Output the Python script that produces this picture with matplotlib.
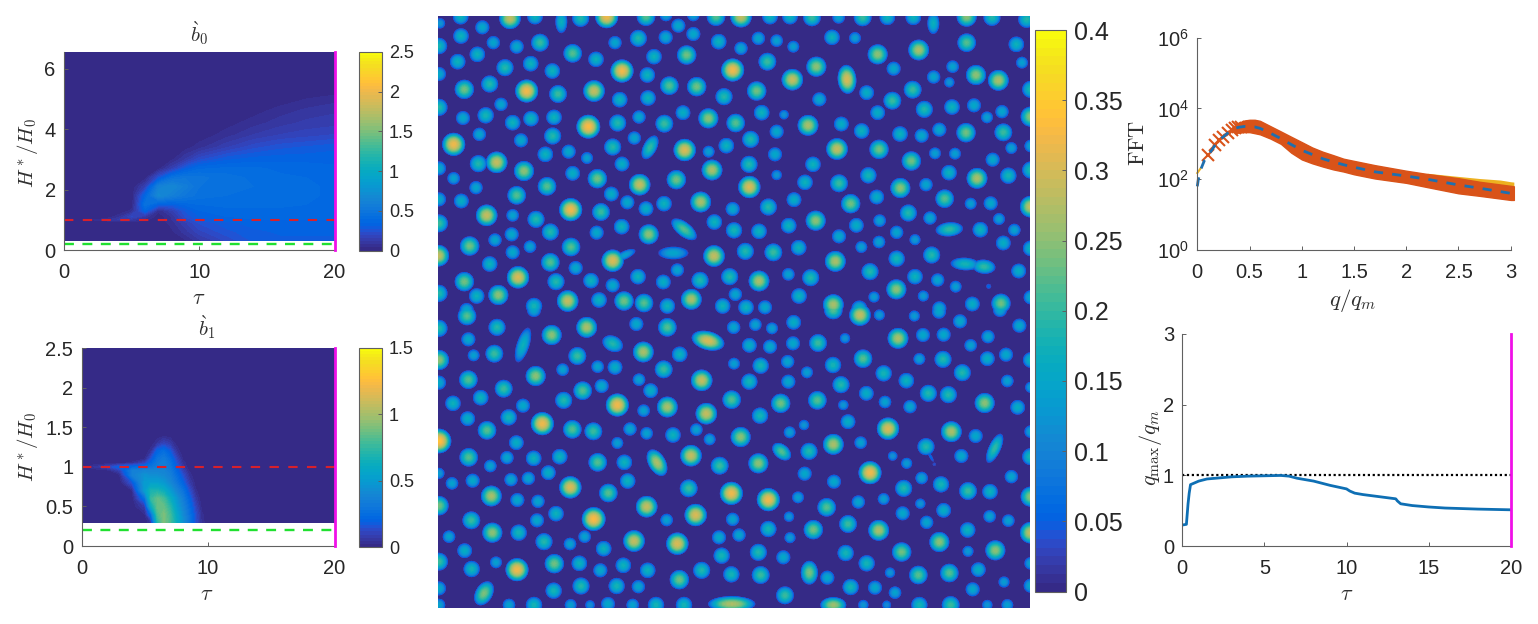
import numpy as np
import matplotlib
matplotlib.use('Agg')
import matplotlib.pyplot as plt
from matplotlib.colors import ListedColormap

plt.rcParams['font.family'] = ['Liberation Sans', 'DejaVu Sans']
plt.rcParams['mathtext.fontset'] = 'cm'

W, H = 1538, 624

parula_rows = [
 (0.2081,0.1663,0.5292),(0.2116,0.1898,0.5777),(0.2123,0.2138,0.6270),(0.2081,0.2386,0.6771),
 (0.1959,0.2645,0.7279),(0.1707,0.2919,0.7792),(0.1253,0.3242,0.8303),(0.0591,0.3598,0.8683),
 (0.0117,0.3875,0.8820),(0.0060,0.4086,0.8828),(0.0165,0.4266,0.8786),(0.0329,0.4430,0.8720),
 (0.0498,0.4586,0.8641),(0.0629,0.4737,0.8554),(0.0723,0.4887,0.8467),(0.0779,0.5040,0.8384),
 (0.0793,0.5200,0.8312),(0.0749,0.5375,0.8263),(0.0641,0.5570,0.8240),(0.0488,0.5772,0.8228),
 (0.0343,0.5966,0.8199),(0.0265,0.6137,0.8135),(0.0239,0.6287,0.8038),(0.0231,0.6418,0.7913),
 (0.0228,0.6535,0.7768),(0.0267,0.6642,0.7607),(0.0384,0.6743,0.7436),(0.0590,0.6838,0.7254),
 (0.0843,0.6928,0.7062),(0.1133,0.7015,0.6859),(0.1453,0.7098,0.6646),(0.1801,0.7177,0.6424),
 (0.2178,0.7250,0.6193),(0.2586,0.7317,0.5954),(0.3022,0.7376,0.5712),(0.3482,0.7424,0.5473),
 (0.3953,0.7459,0.5244),(0.4420,0.7481,0.5033),(0.4871,0.7491,0.4840),(0.5300,0.7491,0.4661),
 (0.5709,0.7485,0.4494),(0.6099,0.7473,0.4337),(0.6473,0.7456,0.4188),(0.6834,0.7435,0.4044),
 (0.7184,0.7411,0.3905),(0.7525,0.7384,0.3768),(0.7858,0.7356,0.3633),(0.8185,0.7327,0.3498),
 (0.8507,0.7299,0.3360),(0.8824,0.7274,0.3217),(0.9139,0.7258,0.3063),(0.9450,0.7261,0.2886),
 (0.9739,0.7314,0.2666),(0.9938,0.7455,0.2403),(0.9990,0.7653,0.2164),(0.9955,0.7861,0.1967),
 (0.9880,0.8066,0.1794),(0.9789,0.8271,0.1633),(0.9697,0.8481,0.1475),(0.9626,0.8705,0.1309),
 (0.9589,0.8949,0.1132),(0.9598,0.9218,0.0948),(0.9661,0.9514,0.0755),(0.9763,0.9831,0.0538)]
parula = ListedColormap(parula_rows)

# ---------- b0 map ----------
b0_tau = [0, 3, 4, 5, 6, 7, 8, 9, 10, 12, 14, 16, 18, 20]
b0_H = [0.3, 0.6, 0.9, 1.0, 1.1, 1.3, 1.5, 1.8, 2.1, 2.4, 2.7, 3.0, 3.4, 3.8, 4.2, 4.6, 5.0, 5.3, 6.55]
b0_vals = [
 [0, 0,   0,   0,   0,   0,   0,   .03, .10, .20, .28, .30, .30, .30],
 [0, 0,   0,   0,   0,   0,   .03, .10, .18, .26, .30, .32, .32, .32],
 [0, 0,   0,   0,   0,   0,   .06, .15, .24, .30, .33, .34, .34, .34],
 [0, .06, .12, .10, .05, .01, .08, .20, .28, .33, .35, .35, .35, .35],
 [0, 0,   .06, .20, .10, .01, .08, .24, .31, .35, .36, .36, .36, .36],
 [0, 0,   0,   .05, .35, .05, .15, .28, .35, .38, .38, .38, .37, .37],
 [0, 0,   0,   0,   .45, .30, .30, .36, .39, .40, .40, .40, .39, .38],
 [0, 0,   0,   0,   .35, .68, .58, .50, .45, .43, .42, .41, .40, .38],
 [0, 0,   0,   0,   .15, .60, .66, .56, .47, .45, .43, .41, .40, .38],
 [0, 0,   0,   0,   .01, .25, .45, .50, .48, .45, .42, .40, .39, .37],
 [0, 0,   0,   0,   0,   .02, .15, .30, .38, .40, .40, .38, .37, .36],
 [0, 0,   0,   0,   0,   0,   .03, .12, .22, .30, .33, .34, .34, .34],
 [0, 0,   0,   0,   0,   0,   0,   .02, .06, .15, .22, .26, .28, .30],
 [0, 0,   0,   0,   0,   0,   0,   0,   .01, .06, .12, .16, .18, .20],
 [0, 0,   0,   0,   0,   0,   0,   0,   0,   .02, .06, .10, .13, .14],
 [0, 0,   0,   0,   0,   0,   0,   0,   0,   0,   .02, .06, .09, .11],
 [0, 0,   0,   0,   0,   0,   0,   0,   0,   0,   0,   .01, .04, .06],
 [0, 0,   0,   0,   0,   0,   0,   0,   0,   0,   0,   0,   0,   .01],
 [0, 0,   0,   0,   0,   0,   0,   0,   0,   0,   0,   0,   0,   0]]

# ---------- b1 map ----------
b1_tau = [0, 1, 2, 3, 4, 5, 5.5, 6, 6.5, 7, 7.5, 8, 8.5, 9, 9.5, 10, 20]
b1_H = [0.3, 0.4, 0.5, 0.6, 0.7, 0.8, 0.9, 0.95, 1.0, 1.05, 1.1, 1.2, 1.3, 1.4, 2.5]
b1_vals = [
 [0, 0,   0,  0,   0,   0,   .05, .70, .90, .80, .62, .45, .30, .15, .04, 0, 0],
 [0, 0,   0,  0,   0,   .02, .25, .80, .90, .78, .58, .42, .28, .14, .03, 0, 0],
 [0, 0,   0,  0,   0,   .08, .60, .85, .85, .72, .52, .38, .25, .11, .01, 0, 0],
 [0, 0,   0,  0,   0,   .25, .75, .85, .78, .62, .47, .34, .21, .07, 0,   0, 0],
 [0, 0,   0,  0,   .02, .50, .68, .68, .62, .50, .38, .28, .15, .03, 0,   0, 0],
 [0, 0,   0,  0,   .15, .50, .52, .52, .48, .40, .30, .20, .08, .01, 0,   0, 0],
 [0, 0,   0,  .02, .35, .45, .42, .42, .40, .35, .25, .14, .04, 0,   0,   0, 0],
 [0, 0,   0,  .08, .35, .38, .38, .38, .38, .32, .22, .10, .02, 0,   0,   0, 0],
 [0, .05, .1, .20, .22, .25, .28, .33, .35, .30, .18, .06, 0,   0,   0,   0, 0],
 [0, 0,   0,  0,   .03, .10, .22, .30, .35, .28, .15, .04, 0,   0,   0,   0, 0],
 [0, 0,   0,  0,   0,   .02, .15, .28, .32, .25, .12, .02, 0,   0,   0,   0, 0],
 [0, 0,   0,  0,   0,   0,   .04, .20, .25, .17, .05, 0,   0,   0,   0,   0, 0],
 [0, 0,   0,  0,   0,   0,   0,   .05, .10, .07, .01, 0,   0,   0,   0,   0, 0],
 [0, 0,   0,  0,   0,   0,   0,   0,   .01, 0,   0,   0,   0,   0,   0,   0, 0],
 [0, 0,   0,  0,   0,   0,   0,   0,   0,   0,   0,   0,   0,   0,   0,   0, 0]]

# ---------- droplets: (x, y, radius) as read in four picture tiles ----------
tile_nw = [
 (30,40,15),(92,20,22),(157,52,20),(240,25,30),(315,20,22),(452,25,24),(530,20,32),(648,20,26),(708,15,18),
 (745,47,20),(790,72,20),(790,15,18),(858,20,26),(933,20,30),(1020,20,22),(93,78,22),(27,108,23),(190,98,19),
 (260,110,20),(330,98,25),(555,98,19),(625,85,24),(707,82,20),(866,95,22),(933,115,19),(985,85,19),(1040,92,18),
 (142,133,22),(428,130,26),(498,148,22),(672,140,22),(770,135,27),(83,155,22),(225,173,24),(302,161,22),
 (367,183,22),(576,183,32),(652,195,22),(908,180,32),(1012,155,25),(27,192,20),(103,238,27),(179,222,24),
 (290,243,32),(384,252,25),(492,243,30),(718,227,26),(800,230,27),(980,243,27),(882,260,24),(569,269,22),
 (654,264,22),(213,283,19),(27,292,24),(995,308,22),(99,324,20),(167,316,23),(248,338,22),(303,326,22),
 (372,322,22),(563,339,24),(627,321,19),(703,341,25),(759,308,21),(835,325,28),(917,339,26),(475,350,33),
 (148,373,19),(368,378,24),(273,391,20),(613,384,19),(1040,365,20),(71,403,32),(962,388,24),(346,433,22),
 (416,425,20),(548,411,24),(764,420,31),(889,407,22),(836,425,17),(471,444,17),(1035,433,20),(145,461,24),
 (200,457,30),(957,463,24),(576,462,21),(846,480,29),(27,475,20),(282,483,28),(428,490,21),(502,506,27),
 (71,505,18),(1040,495,15),(629,524,30),(739,509,27),(958,531,31),(138,533,19),(351,529,26),(260,556,26),
 (544,552,21),(27,568,20),(94,573,21),(592,577,20),(648,596,21),(702,581,22),(812,576,29),(908,597,20),
 (1015,591,24),(422,599,32),(513,606,25),(170,616,30),(248,616,18),(318,628,24),(27,640,25),(575,650,22),
 (853,636,22),(912,661,23),(987,664,22),(361,666,24),(500,668,20),(656,673,28),(245,673,20),(195,690,19),
 (119,708,27),(423,711,26),(300,710,18),(248,727,20),(25,737,30),(852,738,30),(946,724,24),(1030,727,25),
 (548,752,31),(742,780,19),(179,762,22),(361,757,26),(437,774,20),(264,802,31),(103,815,27),(624,800,22),
 (899,800,24),(987,813,29),(378,815,24),(483,812,22),(548,826,20),(700,816,21),(810,811,24),(27,850,24),
 (140,858,22),(205,855,28),(916,853,19),(413,873,30),(507,870,22),(582,873,27),(642,879,26),(784,868,29),
 (312,888,23),(712,888,22),(878,888,22),(948,892,22),(1005,892,20),(110,900,20)]
tile_sw = [
 (111,18,26),(312,0,20),(27,55,24),(201,52,24),(470,52,29),(619,42,20),(712,52,26),(911,52,19),(976,44,18),
 (1026,55,17),(115,88,20),(365,75,28),(958,106,21),(1020,110,20),(131,136,17),(193,131,25),(442,138,25),
 (640,126,29),(749,133,22),(27,150,28),(503,170,18),(555,172,21),(912,161,17),(992,167,23),(398,179,18),
 (701,178,25),(317,198,28),(115,209,26),(815,211,30),(27,218,20),(627,209,18),(958,215,23),(221,236,25),
 (515,228,20),(458,242,26),(662,242,21),(152,263,22),(905,269,26),(401,271,24),(69,280,22),(279,287,20),
 (562,285,32),(712,291,29),(641,302,18),(829,311,30),(990,317,23),(113,326,21),(236,322,23),(337,341,32),
 (427,358,26),(490,364,25),(600,357,19),(171,361,26),(650,370,18),(729,375,22),(799,359,18),(839,388,17),
 (932,381,28),(27,393,34),(562,399,17),(259,398,21),(783,437,30),(116,442,26),(231,443,19),(311,445,22),
 (389,440,22),(503,457,26),(583,457,22),(985,460,28),(869,467,25),(181,468,18),(355,488,21),(27,490,16),
 (243,509,19),(295,505,19),(128,512,20),(66,520,18),(593,513,22),(421,532,31),(776,535,25),(904,550,32),
 (1015,569,32),(535,549,26),(184,558,29),(262,570,20),(324,574,19),(27,587,27),(650,590,30),(378,611,22),
 (797,615,31),(491,627,33),(124,631,25),(321,631,20),(710,630,18),(908,628,19),(1015,657,23),(266,668,23),
 (187,668,28),(927,675,19),(867,682,20),(464,680,18),(57,680,18),(612,693,30),(342,695,24),(420,702,18),
 (742,701,31),(521,716,22),(104,722,21),(875,737,23),(985,727,24),(27,755,25),(373,761,27),(198,757,17),
 (448,760,22),(580,766,22),(261,779,32),(125,777,23),(511,781,20),(653,781,22),(815,781,24),(904,793,23),
 (992,795,25),(748,809,27),(27,835,20),(453,828,24),(371,842,23),(560,828,23),(625,830,19),(27,885,18),
 (237,885,18),(312,885,23),(422,885,17),(480,885,14),(534,882,20),(608,885,18),(678,885,23),(762,885,23)]
tile_ne = [
 (30,20,22),(96,22,25),(176,22,18),(248,22,25),(322,22,22),(400,22,22),(560,20,28),(636,22,24),(740,28,24),
 (156,82,22),(225,84,17),(40,110,17),(560,98,26),(709,103,22),(416,120,29),(293,133,28),(109,170,28),
 (341,176,20),(726,158,17),(518,170,18),(588,195,28),(37,209,30),(655,211,29),(461,201,19),(508,217,15),
 (398,239,25),(260,248,21),(752,238,24),(118,268,20),(337,272,25),(433,298,24),(516,291,22),(582,286,20),
 (666,305,19),(293,308,21),(621,322,17),(12,314,14),(752,320,28),(84,346,29),(184,342,21),(245,363,22),
 (360,372,22),(478,359,20),(425,377,20),(558,368,27),(670,367,25),(171,417,30),(297,418,27),(694,414,17),
 (465,430,17),(525,431,17),(752,408,18),(394,453,27),(638,449,20),(99,463,22),(265,496,23),(507,488,22),
 (591,505,29),(685,497,23),(752,480,24),(75,517,22),(177,520,25),(361,534,28),(438,524,19),(42,569,21),
 (290,561,21),(494,566,26),(572,581,17),(632,580,20),(212,581,27),(752,590,30),(385,609,24),(450,624,19),
 (107,632,28),(26,647,22),(229,646,21),(299,632,18),(601,659,22),(657,627,17),(703,660,18),(177,679,20),
 (350,667,19),(405,689,16),(670,699,21),(297,696,18),(244,711,17),(56,713,22),(455,735,24),(752,715,22),
 (166,754,29),(350,746,23),(716,783,21),(92,803,24),(25,793,18),(270,785,24),(405,800,22),(473,810,19),
 (527,830,17),(349,838,28),(626,829,8),(57,858,22),(282,861,16),(430,858,16),(752,862,20),(160,884,29),
 (238,895,22),(478,895,20),(577,882,21),(663,880,27)]
tile_se = [
 (160,0,26),(240,15,30),(298,15,16),(403,18,16),(477,5,20),(540,34,20),(660,0,20),(41,37,21),(718,47,20),
 (354,85,29),(429,75,20),(491,74,20),(624,80,19),(39,100,20),(114,99,25),(195,85,15),(572,106,18),(678,134,20),
 (622,146,21),(489,148,24),(418,147,17),(249,146,26),(23,155,19),(159,165,23),(752,150,22),(81,187,17),
 (547,188,24),(311,190,23),(379,212,22),(25,215,20),(183,224,24),(682,213,18),(752,232,16),(259,250,21),
 (445,250,24),(505,254,24),(614,279,28),(112,271,26),(315,276,18),(390,290,19),(190,285,15),(713,292,21),
 (2,280,27),(204,335,21),(72,345,15),(324,356,31),(29,367,17),(514,365,29),(587,378,20),(752,365,18),
 (160,403,29),(242,398,18),(438,410,24),(87,424,24),(544,438,20),(752,440,24),(338,438,14),(380,460,16),
 (463,463,6),(74,491,20),(270,488,32),(694,500,19),(162,515,20),(425,504,18),(483,523,23),(371,535,24),
 (564,543,25),(630,545,22),(54,562,17),(311,567,17),(752,560,28),(140,592,26),(235,576,19),(421,581,15),
 (491,601,21),(368,610,20),(27,620,15),(629,619,18),(685,632,18),(440,637,19),(204,642,25),(100,659,27),
 (296,661,29),(563,660,22),(752,668,30),(30,683,16),(478,696,28),(365,726,27),(197,729,23),(564,724,16),
 (646,721,28),(10,742,20),(260,760,23),(595,779,21),(752,760,18),(142,803,20),(330,788,15),(415,795,26),
 (508,789,26),(672,816,16),(578,838,20),(752,827,20),(212,831,23),(285,833,20),(345,848,18),(15,856,25),
 (250,885,15),(320,885,13),(418,885,23),(512,885,25),(622,885,15),(682,885,17)]
# elongated droplets: (x, y, half length, half width, tilt, peak)
long_nw = [(394,35,32,17,90,.17),(660,412,36,19,-62,.20),(762,658,42,20,38,.22),(585,735,32,12,-25,.14),(730,729,42,18,0,.15)]
long_sw = [(279,105,50,18,-72,.17),(548,101,30,22,25,.19),(834,92,46,26,15,.30),(681,458,40,24,60,.27),(162,850,36,24,-60,.24),(905,882,65,22,0,.27)]
long_ne = [(460,40,30,17,90,.17),(201,208,40,26,85,.30),(508,658,38,20,-5,.20),(555,762,40,18,3,.18),(612,770,32,20,5,.20)]
long_se = [(452,440,18,5,60,.06),(644,415,44,17,-65,.20),(88,788,33,24,90,.24),(160,885,36,22,0,.26),(5,425,30,20,40,.22)]
radius_knots = [6, 8, 14, 17, 20, 24, 28, 32, 34]
peak_knots = [.04, .06, .12, .14, .155, .19, .25, .32, .34]

# ---------- spectrum ----------
q_line = [0.0,0.01,0.03,0.07,0.105,0.17,0.21,0.25,0.29,0.33,0.36,0.4,0.45,0.5,0.55,0.6,0.7,0.8,0.9,1.0,1.1,1.2,1.3,1.4,1.5,1.7,2.0,2.2,2.5,2.7,3.0]
fft_line = [63,100,180,350,480,910,1290,1590,2000,2450,2750,2950,3100,3050,3000,2750,2000,1410,955,660,500,380,310,257,219,162,123,100,69,56,40]
q_cross = [0.105,0.17,0.21,0.25,0.29,0.33,0.36,0.39,0.42]
fft_cross = [480,910,1290,1590,2000,2450,2750,2900,3000]
q_band = [0.36,0.4,0.45,0.5,0.55,0.6,0.7,0.8,0.9,1.0,1.1,1.2,1.3,1.4,1.5,1.7,2.0,2.2,2.5,2.7,3.0,3.03]
fft_band_hi = [3630,3980,4570,4790,4790,4470,3160,2240,1580,1120,790,600,480,380,330,250,174,141,107,85,65,63]
fft_band_lo = [2000,2090,2140,2140,2000,1860,1410,1000,560,363,282,229,190,165,138,105,79,60,40,34,26,26]
fft_yellow_hi = [148,120,105,95,85,83]
q_yellow = [2.2,2.5,2.7,2.9,3.0,3.03]
q_yellow_start = [0.0,0.03]
fft_yellow_start = [150,200]

# ---------- peak position ----------
tau_peak = [0,0.25,0.35,0.42,0.5,1,1.5,2,3,4,5,6,6.5,7,8,9,10,10.2,10.5,11,12,13,13.1,13.3,14,15,16,18,20]
qmax_peak = [.30,.31,.60,.75,.87,.92,.95,.96,.98,.99,.995,1.0,.99,.96,.92,.86,.81,.78,.75,.73,.70,.67,.64,.60,.575,.555,.54,.525,.515]

TXT = '#262626'
AX = '#606060'
MAGENTA = '#f010e8'

fig = plt.figure(figsize=(W/100, H/100), dpi=100, facecolor='white')

def axpx(x0, y0, x1, y1):
    return fig.add_axes([x0/W, 1-y1/H, (x1-x0)/W, (y1-y0)/H])

def label(x, y, s, size=15, rot=0):
    fig.text(x/W, 1-y/H, s, ha='center', va='center', fontsize=size, rotation=rot, color='#303030')

def style(ax, size):
    ax.spines['top'].set_visible(False)
    ax.spines['right'].set_visible(False)
    for s in ax.spines.values():
        s.set_color(AX); s.set_linewidth(0.8)
    ax.tick_params(direction='in', length=3, width=0.7, color=AX, labelsize=size, labelcolor=TXT)
    ax.tick_params(axis='x', pad=9)
    ax.tick_params(axis='y', pad=6)

def bar(cax, mappable, ticks, labels, size, pad=5):
    cb = fig.colorbar(mappable, cax=cax)
    cb.set_ticks(ticks, labels=labels)
    cb.ax.tick_params(direction='in', length=3, width=0.7, color=AX, labelsize=size, labelcolor=TXT, pad=pad)
    cb.outline.set_edgecolor(AX); cb.outline.set_linewidth(0.8)
    return cb

def heat(ax, tau, hh, vals, vmax, ylim, red, green):
    levels = np.linspace(0.0005, vmax, 65)
    ax.contourf(tau, hh, np.array(vals), levels=levels, cmap=parula, vmin=0, vmax=vmax, extend='both')
    ax.set_xlim(0, 20); ax.set_ylim(0, ylim)
    ax.plot([0, 20], [red, red], color='#d8202c', lw=1.5, dashes=(4.5, 4.5))
    ax.plot([0, 20], [green, green], color='#20e030', lw=1.7, dashes=(4.2, 3.6))
    ax.plot([20, 20], [0, ylim], color=MAGENTA, lw=2, clip_on=False, zorder=5)
    ax.set_xticks([0, 10, 20])

# left top
ax1 = axpx(64, 52, 334.5, 250)
heat(ax1, b0_tau, b0_H, b0_vals, 2.5, 6.55, 1.0, 0.21)
ax1.set_yticks([0, 2, 4, 6])
style(ax1, 14.5)
cax1 = axpx(359, 52, 382, 250.5)
sm1 = plt.cm.ScalarMappable(norm=plt.Normalize(0, 2.5), cmap=parula)
bar(cax1, sm1, [0, .5, 1, 1.5, 2, 2.5], ['0', '0.5', '1', '1.5', '2', '2.5'], 13)
label(199, 33, r'$\grave{b}_0$', 15)
label(28, 153, r'$H^*/H_0$', 15, 90)
label(199, 298, r'$\tau$', 16)

# left bottom
ax2 = axpx(81.5, 348, 334.5, 546)
heat(ax2, b1_tau, b1_H, b1_vals, 1.5, 2.5, 1.0, 0.2)
ax2.set_yticks([0, .5, 1, 1.5, 2, 2.5], ['0', '0.5', '1', '1.5', '2', '2.5'])
style(ax2, 14.5)
cax2 = axpx(359, 348, 382, 547)
sm2 = plt.cm.ScalarMappable(norm=plt.Normalize(0, 1.5), cmap=parula)
bar(cax2, sm2, [0, .5, 1, 1.5], ['0', '0.5', '1', '1.5'], 13)
label(207, 327, r'$\grave{b}_1$', 15)
label(28, 447, r'$H^*/H_0$', 15, 90)
label(207, 595, r'$\tau$', 16)

# centre field
IMG_X0, IMG_Y0, SIZE = 438, 16, 592
GROW = 1.12
EDGE = 0.8
yy, xx = np.mgrid[0:SIZE, 0:SIZE] + 0.5
field = np.zeros((SIZE, SIZE))

def stamp(px, py, a, b, tilt, peak):
    global field
    u = xx - (px - IMG_X0); v = yy - (py - IMG_Y0)
    t = np.deg2rad(tilt)
    p = (u*np.cos(t) + v*np.sin(t))/(a*GROW)
    s = (-u*np.sin(t) + v*np.cos(t))/(b*GROW)
    drop = peak*np.clip(1 - p*p - s*s, 0, None)**EDGE
    field = np.maximum(field, drop)

for tile, ox, oy in [(tile_nw, 430, 10), (tile_ne, 780, 10), (tile_sw, 430, 310), (tile_se, 780, 310)]:
    for zx, zy, r in tile:
        stamp(ox + zx/3, oy + zy/3, r/3, r/3, 0, np.interp(r, radius_knots, peak_knots))
for tile, ox, oy in [(long_nw, 430, 10), (long_ne, 780, 10), (long_sw, 430, 310), (long_se, 780, 310)]:
    for zx, zy, a, b, tilt, peak in tile:
        stamp(ox + zx/3, oy + zy/3, a/3, b/3, tilt, peak)

ax3 = axpx(IMG_X0, IMG_Y0, IMG_X0 + SIZE, IMG_Y0 + SIZE)
im = ax3.imshow(field, cmap=parula, vmin=0, vmax=0.4, interpolation='bilinear', aspect='auto')
ax3.axis('off')
cax3 = axpx(1035, 30, 1066, 591.5)
bar(cax3, im, [0, .05, .1, .15, .2, .25, .3, .35, .4],
    ['0', '0.05', '0.1', '0.15', '0.2', '0.25', '0.3', '0.35', '0.4'], 18, pad=6)

# right top
ax4 = axpx(1197.3, 37.7, 1510.7, 250)
ax4.set_yscale('log')
ax4.fill_between(q_yellow, fft_band_lo[-6:], fft_yellow_hi, color='#edb120', lw=0, clip_on=False)
ax4.plot(q_yellow_start, fft_yellow_start, color='#edb120', lw=1.5, clip_on=False)
ax4.fill_between(q_band, fft_band_lo, fft_band_hi, color='#d95319', lw=1, clip_on=False)
ax4.plot(q_cross, fft_cross, ls='none', marker='x', ms=8, mew=1.5, color='#d95319', clip_on=False)
ax4.plot(q_line, fft_line, color='#1f6fae', lw=2, dashes=(3.3, 3.3), clip_on=False)
ax4.set_xlim(0, 3); ax4.set_ylim(1, 1e6)
ax4.set_xticks([0, .5, 1, 1.5, 2, 2.5, 3], ['0', '0.5', '1', '1.5', '2', '2.5', '3'])
ax4.set_yticks([1, 1e2, 1e4, 1e6], [r'$\mathregular{10^{0}}$', r'$\mathregular{10^{2}}$', r'$\mathregular{10^{4}}$', r'$\mathregular{10^{6}}$'])
ax4.minorticks_off()
style(ax4, 14.5)
label(1138, 143, r'$\mathrm{FFT}$', 16, 90)
label(1353, 300, r'$q/q_m$', 16.5)

# right bottom
ax5 = axpx(1182.3, 333.7, 1510.7, 546.3)
ax5.plot([0, 20], [1, 1], color='black', lw=1.6, ls=(0, (1, 1.2)))
ax5.plot(tau_peak, qmax_peak, color='#0e6fb4', lw=2)
ax5.plot([20, 20], [0, 3], color=MAGENTA, lw=2, clip_on=False, zorder=5)
ax5.set_xlim(0, 20); ax5.set_ylim(0, 3)
ax5.set_xticks([0, 5, 10, 15, 20]); ax5.set_yticks([0, 1, 2, 3])
style(ax5, 14.5)
label(1150, 448, r'$q_{\mathrm{max}}/q_m$', 16, 90)
label(1347, 595, r'$\tau$', 16)

fig.savefig('out.png', dpi=100, facecolor='white')
